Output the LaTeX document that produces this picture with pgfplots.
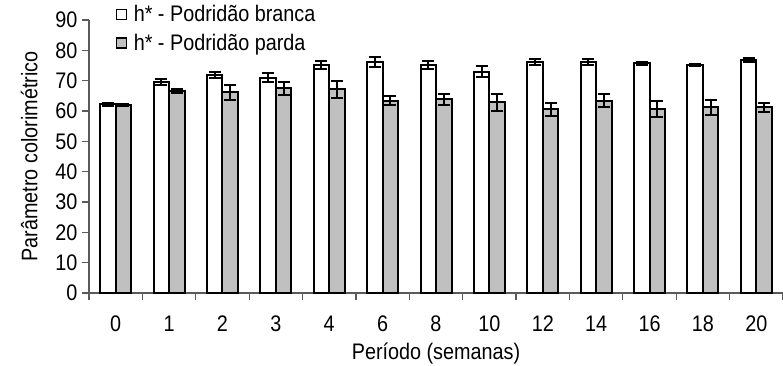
\documentclass[border=0pt]{standalone}
\usepackage{pgfplots}
\pgfplotsset{compat=1.18}
\usepackage{pgfplotstable}
\usepackage{fontspec}
\setmainfont{Liberation Sans}[FakeStretch=0.88]
\definecolor{barfill}{RGB}{192,192,192}
\definecolor{axgray}{RGB}{90,90,90}
\pgfplotstableread{
x  w    we   g    ge
0  62.2 0.4  62.0 0.4
1  69.7 1.0  66.5 0.7
2  71.8 1.0  66.1 2.5
3  70.9 1.5  67.5 2.1
4  75.1 1.4  67.1 2.7
5  76.2 1.6  63.4 1.4
6  75.1 1.3  63.9 1.8
7  73.0 1.8  62.9 2.75
8  76.2 1.1  60.6 2.1
9  76.2 0.9  63.4 2.1
10 75.7 0.5  60.6 2.6
11 75.2 0.4  61.2 2.4
12 76.8 0.8  61.2 1.5
}\data
\begin{document}
\begin{tikzpicture}
\begin{axis}[
  name=ax,
  scale only axis,
  width=694pt, height=273pt,
  xmin=-0.5, xmax=12.5,
  ymin=0, ymax=90,
  ytick={0,10,...,90},
  xtick={0,...,12},
  xticklabels={0,1,2,3,4,6,8,10,12,14,16,18,20},
  minor xtick={-0.5,0.5,...,12.5},
  major x tick style={draw=none},
  tick align=outside,
  major tick length=7pt,
  minor tick length=7pt,
  tick style={axgray, line width=1.2pt},
  axis x line*=bottom,
  axis y line*=left,
  axis line style={axgray, line width=1.3pt, -},
  ybar=0pt,
  bar width=15.5pt,
  font=\fontsize{22.5}{26}\selectfont,
  /pgf/number format/assume math mode=true,
  xticklabel style={yshift=-12pt},
  yticklabel style={xshift=-1pt},
  xlabel={Período (semanas)},
  ylabel={Parâmetro colorimétrico},
  xlabel style={yshift=-5pt},
  ylabel style={yshift=11pt},
  legend style={draw=none, fill=none, at={(axis description cs:0.038,1.062)}, anchor=north west,
    font=\fontsize{22.5}{26}\selectfont, row sep=7pt, inner sep=0pt,
    /tikz/every odd column/.append style={column sep=5pt}},
  legend cell align=left,
  legend image code/.code={\draw[#1, draw=black, line width=1.2pt] (0pt,-5pt) rectangle (10pt,5pt);},
  error bars/error bar style={black, line width=2pt},
  error bars/error mark options={rotate=90, black, line width=2pt, mark size=6pt},
]
\addplot[fill=white, draw=black, line width=2pt,
  error bars/.cd, y dir=both, y explicit] table[x=x, y=w, y error=we] {\data};
\addlegendentry{h* - Podridão branca}
\addplot[fill=barfill, draw=black, line width=2pt,
  error bars/.cd, y dir=both, y explicit] table[x=x, y=g, y error=ge] {\data};
\addlegendentry{h* - Podridão parda}
\end{axis}
\pgfresetboundingbox
\path[use as bounding box] ([xshift=-89pt,yshift=-73pt]ax.south west) rectangle ([yshift=20pt]ax.north east);
\end{tikzpicture}
\end{document}
